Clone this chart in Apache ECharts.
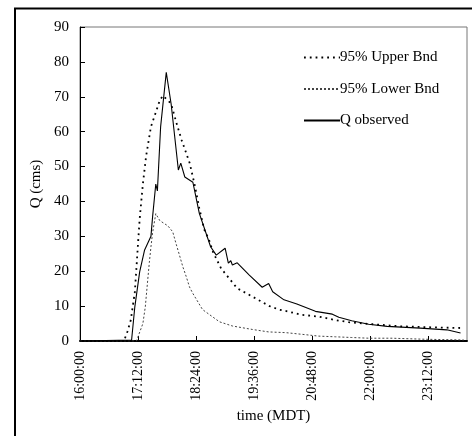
<!DOCTYPE html>
<html>
<head>
<meta charset="utf-8">
<script src="https://cdn.jsdelivr.net/npm/echarts@6/dist/echarts.min.js"></script>
<style>
html,body{margin:0;padding:0;background:#fff;}
#chart{width:472px;height:436px;}
</style>
</head>
<body>
<div id="chart"></div>
<script>
// x values are minutes after 16:00:00 (MDT)
var xTickStart = 0, xTickStep = 72, xMax = 480;
var yTicks = [0, 10, 20, 30, 40, 50, 60, 70, 80, 90];

var upperT = [0, 52, 55, 59, 63, 68, 70, 72, 74, 78, 82, 88, 95, 99, 103, 113, 119, 126, 130, 136, 142, 148, 154, 160, 165, 175, 195, 218, 235, 247, 259, 275, 296, 317, 333, 358, 398, 439, 476];
var upperQ = [0, 0, 0.3, 2.8, 6, 14, 21, 28, 35, 45, 53, 61.4, 66.2, 69, 70.3, 68, 63, 57.6, 55, 51, 45, 38, 32, 29, 25.5, 20.8, 15.1, 12.2, 10, 9, 8.4, 7.5, 7, 6, 5.4, 4.9, 4.2, 3.9, 3.7];

var lowerT = [0, 70, 72, 78, 81, 84, 86, 88, 90, 94, 99, 109, 115, 119, 123.5, 127.5, 131.7, 135.8, 139.8, 152, 173, 189, 214, 234, 255, 276, 296, 317, 337, 358, 387, 428, 476];
var lowerQ = [0, 0, 0.3, 5, 9.8, 17.5, 22.5, 27, 31, 36.5, 34.5, 33, 31.3, 28, 24.5, 21.3, 18.5, 15.5, 13.7, 9, 5.5, 4.3, 3.3, 2.6, 2.4, 1.9, 1.4, 1.2, 1.0, 0.8, 0.8, 0.5, 0.3];

var obsT = [0, 64, 68, 74, 80, 88, 90, 94, 96, 100, 107, 113, 122, 125, 130, 140, 148, 162, 169, 180, 184, 187, 189, 195, 210, 226, 234, 239, 253, 269, 292, 313, 321, 337, 358, 381, 422, 455, 472];
var obsQ = [0, 0.3, 9.8, 19.8, 26, 30, 35.5, 45, 43, 61.4, 77, 68, 49, 51, 47, 45.5, 36.6, 27, 24.6, 26.6, 22.3, 23, 21.8, 22.4, 18.9, 15.4, 16.5, 14.1, 11.8, 10.6, 8.5, 7.7, 6.8, 5.8, 4.8, 4.2, 3.7, 3.2, 2.3];

function zip(a, b) { return a.map(function (v, i) { return [v, b[i]]; }); }
function pad(n) { return (n < 10 ? '0' : '') + n; }
function fmtTime(m) {
  var t = 960 + m;
  var h = Math.floor(t / 60), mm = Math.round(t % 60);
  return h + ':' + pad(mm) + ':00';
}

var FONT = 'Liberation Serif';
var chart = echarts.init(document.getElementById('chart'), null, { renderer: 'canvas' });
chart.setOption({
  animation: false,
  backgroundColor: '#fff',
  textStyle: { fontFamily: FONT, color: '#000' },
  graphic: [{
    type: 'rect', silent: true,
    shape: { x: 15, y: 8.5, width: 470, height: 440 },
    style: { fill: 'none', stroke: '#000', lineWidth: 2 }
  }],
  grid: {
    left: 80, right: 5, top: 27, bottom: 95,
    show: true, borderColor: '#777', borderWidth: 1, backgroundColor: 'transparent'
  },
  legend: {
    orient: 'vertical', left: 298, top: 45, itemWidth: 36, itemHeight: 14, itemGap: 16.5,
    itemStyle: { opacity: 0 },
    textStyle: { fontFamily: FONT, fontSize: 15, color: '#000', padding: [0, 0, 0, -5] },
    data: ['95% Upper Bnd', '95% Lower Bnd', 'Q observed']
  },
  xAxis: {
    type: 'value', min: xTickStart, max: xMax, interval: xTickStep,
    name: 'time (MDT)', nameLocation: 'middle', nameGap: 64,
    nameTextStyle: { fontFamily: FONT, fontSize: 15, color: '#000' },
    axisLine: { show: true, onZero: false, lineStyle: { color: '#000', width: 2 } },
    axisTick: { show: true, inside: true, length: 5, lineStyle: { color: '#000' } },
    axisLabel: { rotate: 90, margin: 10, fontFamily: FONT, fontSize: 14, color: '#000',
      showMaxLabel: false, formatter: function (v) { return fmtTime(v); } },
    splitLine: { show: false }
  },
  yAxis: {
    type: 'value', min: yTicks[0], max: yTicks[yTicks.length - 1], interval: 10,
    name: 'Q (cms)', nameLocation: 'middle', nameGap: 32, nameRotate: 90,
    nameTextStyle: { fontFamily: FONT, fontSize: 15, color: '#000' },
    axisLine: { show: true, lineStyle: { color: '#000', width: 1 } },
    axisTick: { show: true, inside: true, length: 5, lineStyle: { color: '#000' } },
    axisLabel: { margin: 11, fontFamily: FONT, fontSize: 15, color: '#000' },
    splitLine: { show: false }
  },
  series: [
    { name: '95% Upper Bnd', type: 'line', data: zip(upperT, upperQ), symbol: 'none',
      lineStyle: { color: '#000', width: 1.8, type: [1.8, 4] }, itemStyle: { color: '#000' } },
    { name: '95% Lower Bnd', type: 'line', data: zip(lowerT, lowerQ), symbol: 'none',
      lineStyle: { color: '#444', width: 1, type: [2, 2] }, itemStyle: { color: '#444' } },
    { name: 'Q observed', type: 'line', data: zip(obsT, obsQ), symbol: 'none',
      lineStyle: { color: '#000', width: 1.1 }, itemStyle: { color: '#000' } }
  ]
});
</script>
</body>
</html>
